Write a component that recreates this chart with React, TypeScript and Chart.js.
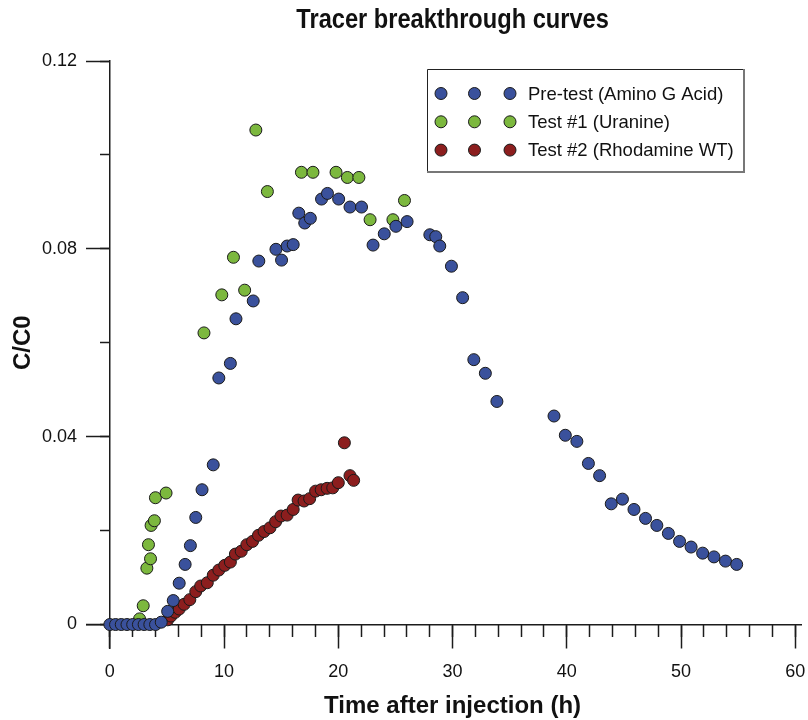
import React, { useEffect, useRef } from 'react';
import { Chart, registerables } from 'chart.js';

Chart.register(...registerables);

const FONT = "'Liberation Sans', Arial, Helvetica, sans-serif";

const TITLE = 'Tracer breakthrough curves';
const X_TITLE = 'Time after injection (h)';
const Y_TITLE = 'C/C0';

const SERIES_LABELS = ['Pre-test (Amino G Acid)', 'Test #1 (Uranine)', 'Test #2 (Rhodamine WT)'];
const SERIES_COLORS = ['#3a519c', '#7cb83e', '#8c1e1e'];

// Pre-test (Amino G Acid)
const PRE_T = [0, 0.5, 1, 1.5, 2, 2.5, 3, 3.5, 4, 4.5, 5.06, 5.55, 6.07, 6.59, 7.05, 7.52, 8.07, 9.05, 9.54, 10.55, 11.04, 12.55, 13.04, 14.54, 15.03, 15.52, 16.05, 16.54, 17.06, 17.55, 18.53, 19.05, 20.03, 21.02, 22.03, 23.04, 24.02, 25.04, 26.02, 28.01, 28.53, 28.88, 29.9, 30.88, 31.86, 32.87, 33.88, 38.88, 39.87, 40.88, 41.89, 42.87, 43.89, 44.87, 45.88, 46.89, 47.88, 48.89, 49.87, 50.88, 51.89, 52.88, 53.89, 54.87];
const PRE_C = [0, 0, 0, 0, 0, 0, 0, 0, 0, 0.0005, 0.0028, 0.0051, 0.0088, 0.0128, 0.0168, 0.0228, 0.0287, 0.034, 0.0525, 0.0556, 0.0651, 0.0689, 0.0774, 0.0799, 0.0776, 0.0806, 0.0809, 0.0876, 0.0855, 0.0865, 0.0906, 0.0918, 0.0906, 0.0889, 0.0889, 0.0808, 0.0832, 0.0848, 0.0858, 0.083, 0.0826, 0.0806, 0.0763, 0.0696, 0.0564, 0.0535, 0.0475, 0.0444, 0.0403, 0.039, 0.0343, 0.0317, 0.0257, 0.0267, 0.0245, 0.0226, 0.0211, 0.0194, 0.0177, 0.0165, 0.0152, 0.0144, 0.0135, 0.0128];

// Test #1 (Uranine)
const URA_T = [2.6, 2.92, 3.24, 3.38, 3.56, 3.61, 3.9, 3.99, 4.92, 8.24, 9.8, 10.82, 11.8, 12.78, 13.79, 16.77, 17.78, 19.8, 20.79, 21.8, 22.78, 24.78, 25.79];
const URA_C = [0.0012, 0.004, 0.012, 0.017, 0.014, 0.0211, 0.0221, 0.027, 0.028, 0.0621, 0.0702, 0.0782, 0.0712, 0.1053, 0.0922, 0.0963, 0.0963, 0.0963, 0.0952, 0.0952, 0.0862, 0.0862, 0.0903];

// Test #2 (Rhodamine WT)
const RHO_T = [5.06, 5.35, 5.72, 6.07, 6.5, 7.0, 7.52, 7.95, 8.53, 9.05, 9.54, 10.06, 10.55, 10.99, 11.5, 11.99, 12.49, 13.01, 13.5, 14.02, 14.51, 14.98, 15.52, 16.05, 16.48, 17.0, 17.49, 18.01, 18.5, 19.02, 19.51, 20.0, 20.53, 21.02, 21.34];
const RHO_C = [0.001, 0.0018, 0.0026, 0.0033, 0.0043, 0.0053, 0.007, 0.0082, 0.0089, 0.0105, 0.0116, 0.0126, 0.0133, 0.015, 0.0156, 0.017, 0.0177, 0.019, 0.0198, 0.0206, 0.0219, 0.0231, 0.0233, 0.0245, 0.0265, 0.0263, 0.0268, 0.0284, 0.0287, 0.029, 0.0291, 0.0302, 0.0387, 0.0317, 0.0307];

const X_MAJOR = [0, 10, 20, 30, 40, 50, 60];
const X_MINOR = [0, 2, 4, 6, 8, 10, 12, 14, 16, 18, 20, 22, 24, 26, 28, 30, 32, 34, 36, 38, 40, 42, 44, 46, 48, 50, 52, 54, 56, 58, 60];
const Y_MAJOR = [0, 0.04, 0.08, 0.12];
const Y_MINOR = [0, 0.02, 0.04, 0.06, 0.08, 0.1, 0.12];

const X_MIN = -2;
const X_MAX = 60.5;
const Y_MIN = -0.005;
const Y_MAX = 0.12;

const pts = (t: number[], c: number[]) => t.map((v, i) => ({ x: v, y: c[i] }));

const AXIS_COLOR = '#1c1c1c';

const titlesPlugin = {
  id: 'titlesPlugin',
  afterDraw(chart: any) {
    const { ctx, scales } = chart;
    const cx = scales.x.getPixelForValue(30);
    const cy = scales.y.getPixelForValue(0.06);
    ctx.save();
    ctx.fillStyle = '#111';
    ctx.textAlign = 'center';
    ctx.textBaseline = 'alphabetic';
    ctx.font = `bold 27px ${FONT}`;
    ctx.save();
    ctx.translate(cx, 28);
    ctx.scale(0.875, 1);
    ctx.fillText(TITLE, 0, 0);
    ctx.restore();
    ctx.font = `bold 24px ${FONT}`;
    ctx.fillText(X_TITLE, cx, 713);
    ctx.save();
    ctx.translate(30, cy);
    ctx.rotate(-Math.PI / 2);
    ctx.fillText(Y_TITLE, 0, 0);
    ctx.restore();
    ctx.restore();
  },
};

const legendPlugin = {
  id: 'boxLegend',
  afterDraw(chart: any) {
    const { ctx } = chart;
    const left = 427, top = 69, right = 744, bottom = 172;
    ctx.save();
    ctx.fillStyle = '#fff';
    ctx.fillRect(left, top, right - left, bottom - top);
    ctx.strokeStyle = '#222';
    ctx.lineWidth = 1;
    ctx.beginPath();
    ctx.moveTo(left + 0.5, bottom);
    ctx.lineTo(left + 0.5, top + 0.5);
    ctx.lineTo(right, top + 0.5);
    ctx.stroke();
    ctx.strokeStyle = '#777';
    ctx.lineWidth = 2;
    ctx.beginPath();
    ctx.moveTo(right, top);
    ctx.lineTo(right, bottom);
    ctx.lineTo(left, bottom);
    ctx.stroke();
    chart.data.datasets.forEach((ds: any, i: number) => {
      const y = 93.5 + i * 28.3;
      [441, 474.5, 510].forEach((x) => {
        ctx.beginPath();
        ctx.arc(x, y, 6, 0, Math.PI * 2);
        ctx.fillStyle = ds.backgroundColor;
        ctx.fill();
        ctx.lineWidth = 1;
        ctx.strokeStyle = '#1a1a1a';
        ctx.stroke();
      });
      ctx.fillStyle = '#111';
      ctx.font = `18.5px ${FONT}`;
      ctx.textAlign = 'left';
      ctx.textBaseline = 'middle';
      ctx.fillText(ds.label, 528, y + 1);
    });
    ctx.restore();
  },
};

const setTicks = (arr: number[]) => (scale: any) => {
  scale.ticks = arr.map((v) => ({ value: v }));
};
const noPad = (scale: any) => {
  scale.paddingLeft = 0;
  scale.paddingRight = 0;
  scale.paddingTop = 0;
  scale.paddingBottom = 0;
};

export default function App() {
  const ref = useRef<HTMLCanvasElement | null>(null);
  useEffect(() => {
    if (!ref.current) return;
    const mk = (i: number, t: number[], c: number[]) => ({
      label: SERIES_LABELS[i],
      data: pts(t, c),
      backgroundColor: SERIES_COLORS[i],
      borderColor: '#1a1a1a',
      borderWidth: 1,
      pointRadius: 6,
      pointHoverRadius: 6,
      showLine: false,
    });
    const chart = new Chart(ref.current, {
      type: 'scatter',
      data: {
        datasets: [mk(0, PRE_T, PRE_C), mk(1, URA_T, URA_C), mk(2, RHO_T, RHO_C)],
      },
      options: {
        animation: false,
        responsive: true,
        maintainAspectRatio: false,
        layout: { padding: { left: 0, right: 0, top: 61, bottom: 72 } },
        plugins: { legend: { display: false }, title: { display: false }, tooltip: { enabled: false } },
        scales: {
          x: {
            type: 'linear',
            min: X_MIN,
            max: X_MAX,
            position: { y: 0 } as any,
            afterBuildTicks: setTicks(X_MAJOR),
            afterFit: noPad,
            grid: { drawOnChartArea: false, drawTicks: true, tickLength: 23, tickColor: AXIS_COLOR, tickWidth: 1.5 },
            border: { display: true, color: AXIS_COLOR, width: 1.5 },
            ticks: { font: { family: FONT, size: 18 }, color: '#111', padding: 14, maxRotation: 0, autoSkip: false, callback: (v: any) => String(v) },
          },
          xMinor: {
            type: 'linear',
            axis: 'x',
            min: X_MIN,
            max: X_MAX,
            position: { y: 0 } as any,
            afterBuildTicks: setTicks(X_MINOR),
            afterFit: noPad,
            grid: { drawOnChartArea: false, drawTicks: true, tickLength: 12, tickColor: AXIS_COLOR, tickWidth: 1.5 },
            border: { display: false },
            ticks: { display: false },
          },
          y: {
            type: 'linear',
            min: Y_MIN,
            max: Y_MAX,
            position: { x: 0 } as any,
            afterBuildTicks: setTicks(Y_MAJOR),
            afterFit: noPad,
            grid: { drawOnChartArea: false, drawTicks: true, tickLength: 23, tickColor: AXIS_COLOR, tickWidth: 1.5 },
            border: { display: true, color: AXIS_COLOR, width: 1.5 },
            ticks: { display: false },
          },
          yMinor: {
            type: 'linear',
            axis: 'y',
            min: Y_MIN,
            max: Y_MAX,
            position: { x: 0 } as any,
            afterBuildTicks: setTicks(Y_MINOR),
            afterFit: noPad,
            grid: { drawOnChartArea: false, drawTicks: true, tickLength: 10, tickColor: AXIS_COLOR, tickWidth: 1.5 },
            border: { display: false },
            ticks: { display: false },
          },
          yLabels: {
            type: 'linear',
            axis: 'y',
            min: Y_MIN,
            max: Y_MAX,
            position: 'left',
            afterBuildTicks: setTicks(Y_MAJOR),
            afterFit: (s: any) => {
              noPad(s);
              s.width = 87;
            },
            grid: { display: false, drawTicks: false },
            border: { display: false },
            ticks: { font: { family: FONT, size: 18 }, color: '#111', padding: 10, autoSkip: false, callback: (v: any) => (v === 0 ? '0' : Number(v).toFixed(2)) },
          },
        },
      } as any,
      plugins: [titlesPlugin, legendPlugin],
    });
    return () => chart.destroy();
  }, []);
  return (
    <div style={{ position: 'absolute', left: 0, top: 0, width: 808, height: 720 }}>
      <canvas ref={ref} />
    </div>
  );
}
